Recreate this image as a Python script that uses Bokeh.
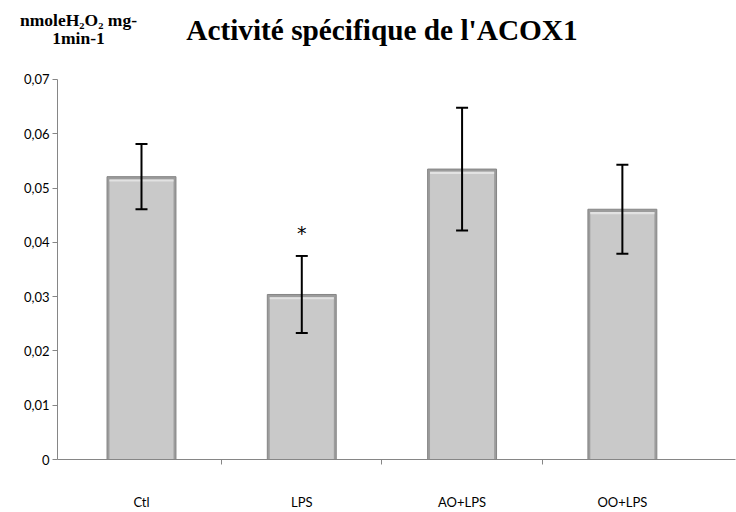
from bokeh.plotting import figure
from bokeh.models import Range1d, FixedTicker, Whisker, ColumnDataSource, TeeHead
from bokeh.core.properties import value
from bokeh.embed import file_html
from bokeh.resources import INLINE

# ---- data ----
categories = ["Ctl", "LPS", "AO+LPS", "OO+LPS"]
means = [0.0521, 0.0304, 0.0535, 0.0461]
errors = [0.0060, 0.0071, 0.0113, 0.0082]
marks = ["", "*", "", ""]
y_ticks = [0, 0.01, 0.02, 0.03, 0.04, 0.05, 0.06, 0.07]
y_tick_labels = ["0", "0,01", "0,02", "0,03", "0,04", "0,05", "0,06", "0,07"]
title_text = "Activité spécifique de l'ACOX1"
unit_lines = ["nmoleH₂O₂ mg-", "1min-1"]

xs = list(range(len(categories)))
upper = [m + e for m, e in zip(means, errors)]
lower = [m - e for m, e in zip(means, errors)]

# layout constants (positions in data units)
X_LEFT, X_AXIS, X_RIGHT, X_AXIS_END = -0.8796, -0.524, 3.712, 3.705
Y_BOTTOM, Y_MAX_AXIS, Y_TOP = -0.00976, 0.07, 0.08455

src = ColumnDataSource(dict(x=xs, top=means, upper=upper, lower=lower,
                            inner_top=[m - 0.0005 for m in means],
                            hl_bottom=[m - 0.0009 for m in means]))

p = figure(width=736, height=512, x_range=Range1d(X_LEFT, X_RIGHT), y_range=Range1d(Y_BOTTOM, Y_TOP),
           output_backend="svg", toolbar_location=None,
           min_border_left=0, min_border_right=0, min_border_top=0, min_border_bottom=0)
p.outline_line_color = None
p.xgrid.visible = False
p.ygrid.visible = False

# bars with a simple bevel look
p.vbar(x="x", top="top", bottom=0, width=0.43, source=src,
       fill_color="#9c9c9c", line_color="#858585", line_width=1)
p.vbar(x="x", top="inner_top", bottom=0, width=0.40, source=src,
       fill_color="#c9c9c9", line_color=None)
p.vbar(x="x", top="inner_top", bottom="hl_bottom", width=0.40, source=src,
       fill_color="#e2e2e2", line_color=None)

# error bars
w = Whisker(source=src, base="x", upper="upper", lower="lower",
            line_color="black", line_width=2, level="overlay",
            upper_head=TeeHead(size=12, line_color="black", line_width=2),
            lower_head=TeeHead(size=12, line_color="black", line_width=2))
p.add_layout(w)

# significance marks
sig_src = ColumnDataSource(dict(x=xs, y=[u + 0.0043 for u in upper], t=marks))
p.text(x="x", y="y", text="t", source=sig_src, text_align="center", text_baseline="middle",
       text_font=value("DejaVu Sans"), text_font_size="19px", text_color="black")

# title and unit label
p.text(x=[1.5], y=[0.07905], text=[title_text], text_align="center", text_baseline="middle",
       text_font=value("Liberation Serif"), text_font_size="29.3px", text_font_style="bold",
       text_color="black")
p.text(x=[-0.393, -0.393], y=[0.08100, 0.07765], text=unit_lines, text_align="center",
       text_baseline="middle", text_font=value("Liberation Serif"), text_font_size="17.5px",
       text_font_style="bold", text_color="black")

# axes
p.yaxis.fixed_location = X_AXIS
p.yaxis.bounds = (0, Y_MAX_AXIS)
p.yaxis.ticker = FixedTicker(ticks=y_ticks)
p.yaxis.major_label_overrides = {t: l for t, l in zip(y_ticks, y_tick_labels)}
p.yaxis.axis_line_color = "#868686"
p.yaxis.major_tick_line_color = "#868686"
p.yaxis.major_tick_out = 5
p.yaxis.major_tick_in = 0
p.yaxis.minor_tick_line_color = None
p.yaxis.major_label_standoff = 3
p.yaxis.major_label_text_font = "Lato"
p.yaxis.major_label_text_font_size = "13px"
p.yaxis.major_label_text_color = "black"

boundaries = [i + 0.5 for i in xs[:-1]]
p.xaxis.fixed_location = 0
p.xaxis.bounds = (X_AXIS, X_AXIS_END)
p.xaxis.axis_label = None
p.xaxis.ticker = FixedTicker(ticks=xs, minor_ticks=boundaries)
p.xaxis.major_label_overrides = {i: c for i, c in zip(xs, categories)}
p.xaxis.axis_line_color = "#868686"
p.xaxis.major_tick_line_color = None
p.xaxis.major_tick_out = 0
p.xaxis.major_tick_in = 0
p.xaxis.minor_tick_line_color = "#868686"
p.xaxis.minor_tick_out = 5
p.xaxis.minor_tick_in = 0
p.xaxis.major_label_standoff = 29
p.xaxis.major_label_text_font = "Lato"
p.xaxis.major_label_text_font_size = "13px"
p.xaxis.major_label_text_color = "black"

open("out.html", "w").write(file_html(p, INLINE))
